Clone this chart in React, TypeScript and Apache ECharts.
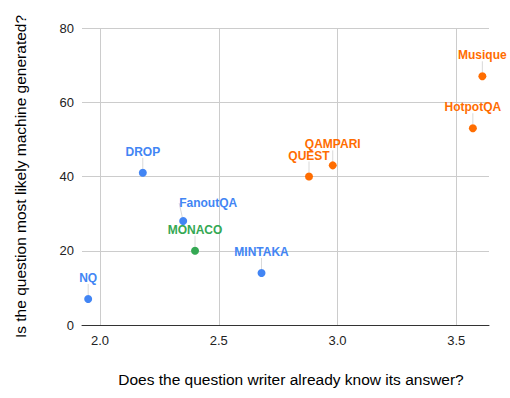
import React, { useEffect, useRef } from "react";
import * as echarts from "echarts";

const datasetNames = ["NQ", "DROP", "FanoutQA", "MINTAKA", "MONACO", "QUEST", "QAMPARI", "HotpotQA", "Musique"];
const writerKnows = [1.95, 2.18, 2.35, 2.68, 2.4, 2.88, 2.98, 3.57, 3.61];
const machineGenerated = [7, 41, 28, 14, 20, 40, 43, 53, 67];
const groups = ["blue", "blue", "blue", "blue", "green", "orange", "orange", "orange", "orange"];

const groupColors: Record<string, string> = {
  blue: "#4285F4",
  orange: "#FF6D01",
  green: "#34A853",
};

const yTicks = [0, 20, 40, 60, 80];

const FONT = "Arial, 'Liberation Sans', sans-serif";

export default function App() {
  const ref = useRef<HTMLDivElement>(null);
  useEffect(() => {
    if (!ref.current) return;
    const chart = echarts.init(ref.current, undefined, { renderer: "svg" });
    const groupOrder = ["blue", "green", "orange"];
    const series = groupOrder.map((g) => {
      const items = datasetNames
        .map((n, i) => ({ name: n, value: [writerKnows[i], machineGenerated[i]], g: groups[i] }))
        .filter((d) => d.g === g)
        .map((d) => ({ name: d.name, value: d.value }));
      return {
        type: "scatter",
        data: items,
        symbolSize: 8,
        itemStyle: { color: groupColors[g], opacity: 1 },
        label: {
          show: true,
          position: "top",
          distance: 5,
          formatter: "{b}",
          color: groupColors[g],
          fontFamily: FONT,
          fontWeight: "bold",
          fontSize: 12,
        },
        labelLayout: (params: any) => {
          const name = items[params.dataIndex]?.name;
          if (name === "FanoutQA") return { dx: 25, dy: -3 };
          return { dy: -6 };
        },
        labelLine: {
          show: true,
          lineStyle: { color: "#d9d9d9", width: 1 },
        },
        emphasis: { disabled: true },
      };
    });
    chart.setOption({
      animation: false,
      backgroundColor: "#ffffff",
      grid: { left: 82, right: 21, top: 28, bottom: 73, containLabel: false },
      xAxis: {
        type: "value",
        min: 1.924,
        max: 3.638,
        minInterval: 0.5,
        maxInterval: 0.5,
        name: "Does the question writer already know its answer?",
        nameLocation: "middle",
        nameGap: 46,
        nameTextStyle: { fontFamily: FONT, fontSize: 15.5, color: "#000", padding: [0, 0, 0, 11] },
        axisLine: { show: true, lineStyle: { color: "#333", width: 1 } },
        axisTick: { show: false },
        axisLabel: {
          showMinLabel: false,
          showMaxLabel: false,
          formatter: (v: number) => v.toFixed(1),
          fontFamily: FONT,
          fontSize: 13,
          color: "#222",
          margin: 9,
        },
        splitLine: { show: true, showMinLine: false, showMaxLine: false, lineStyle: { color: "#cccccc", width: 1 } },
      },
      yAxis: {
        type: "value",
        min: yTicks[0],
        max: yTicks[yTicks.length - 1],
        interval: 20,
        name: "Is the question most likely machine generated?",
        nameLocation: "middle",
        nameGap: 54,
        nameTextStyle: { fontFamily: FONT, fontSize: 15.5, color: "#000" },
        axisLine: { show: false },
        axisTick: { show: false },
        axisLabel: {
          fontFamily: FONT,
          fontSize: 13,
          color: "#222",
          margin: 8,
        },
        splitLine: { show: true, lineStyle: { color: "#cccccc", width: 1 } },
      },
      series,
    });
    return () => chart.dispose();
  }, []);
  return <div ref={ref} style={{ width: 510, height: 398, position: "absolute", left: 0, top: 0 }} />;
}
